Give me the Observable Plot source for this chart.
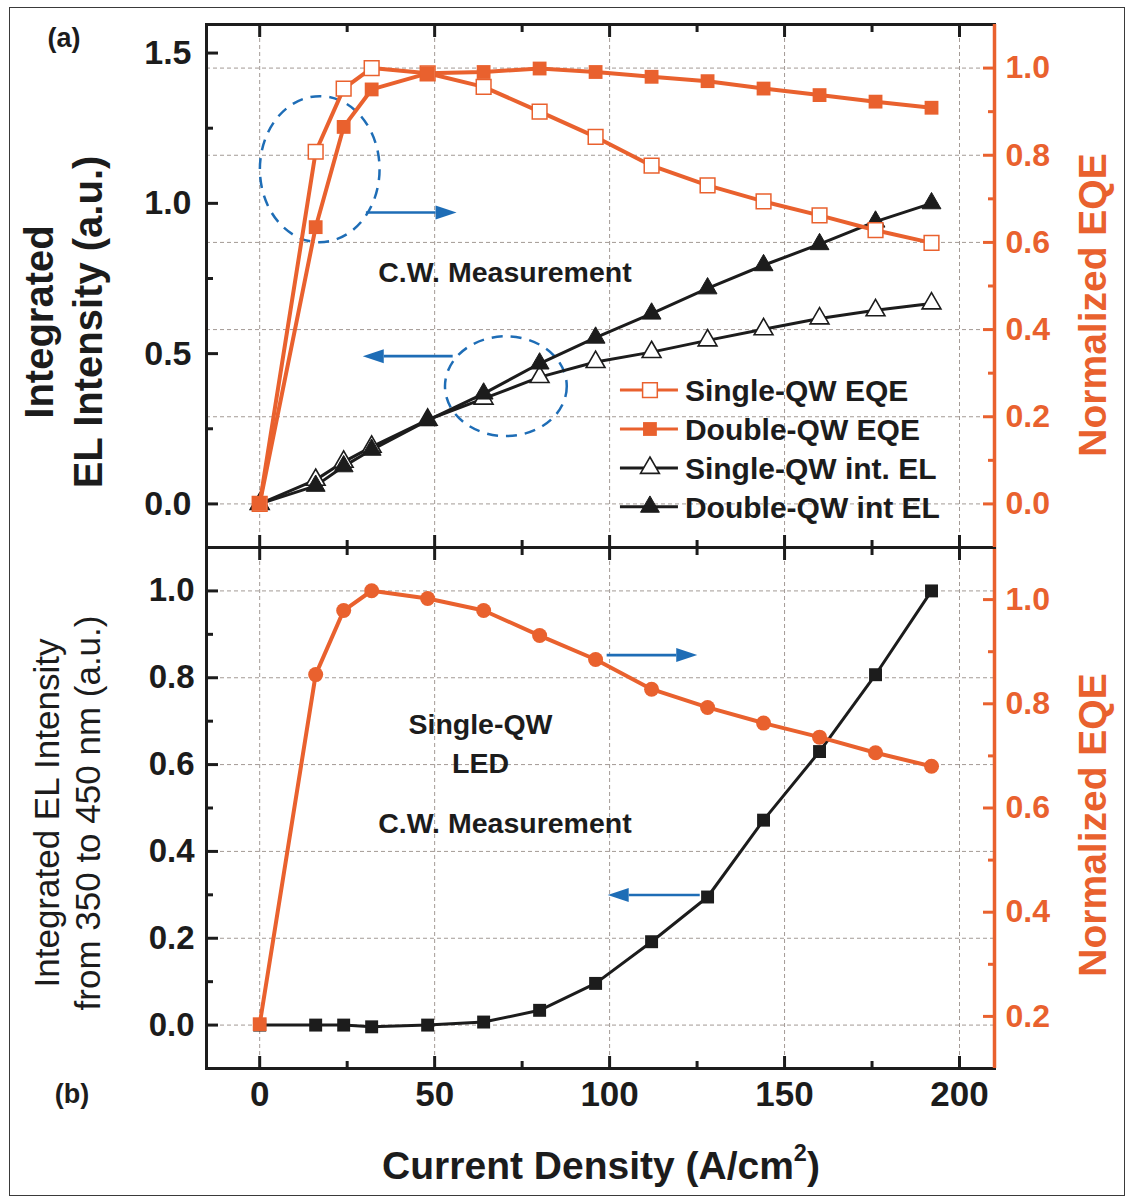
<!DOCTYPE html>
<html>
<head>
<meta charset="utf-8">
<script src="https://cdn.jsdelivr.net/npm/d3@7"></script>
<script src="https://cdn.jsdelivr.net/npm/@observablehq/plot@0.6"></script>
<style>
  body { margin: 0; background: #fff; }
  #fig { position: relative; width: 1130px; height: 1200px; overflow: hidden; background: #fff;
         font-family: "Liberation Sans", Arial, sans-serif; }
  #fig svg { position: absolute; left: 0; top: 0; }
  .lbl { position: absolute; white-space: nowrap; text-align: center; }
  .border { position: absolute; left: 9px; top: 7px; width: 1114px; height: 1187px; border: 1.5px solid #3a3a3a; }
</style>
</head>
<body>
<div id="fig"><div class="border"></div></div>
<script>
// ---------------- data ----------------
const currentDensity = [0, 16, 24, 32, 48, 64, 80, 96, 112, 128, 144, 160, 176, 192];
// panel (a)
const singleQwEqeA = [0, 0.808, 0.953, 1.000, 0.988, 0.957, 0.900, 0.842, 0.776, 0.731, 0.694, 0.662, 0.628, 0.599];
const doubleQwEqeA = [0, 0.635, 0.865, 0.951, 0.988, 0.991, 0.999, 0.991, 0.980, 0.970, 0.953, 0.938, 0.923, 0.909];
const singleQwElA  = [0, 0.080, 0.140, 0.190, 0.280, 0.350, 0.422, 0.472, 0.505, 0.544, 0.581, 0.617, 0.644, 0.667];
const doubleQwElA  = [0, 0.060, 0.125, 0.180, 0.278, 0.367, 0.467, 0.553, 0.633, 0.717, 0.794, 0.864, 0.939, 1.000];
// panel (b)
const singleQwElB  = [0, 0, 0, -0.004, 0, 0.007, 0.034, 0.096, 0.192, 0.295, 0.472, 0.630, 0.807, 1.000];
const singleQwEqeB = [0.185, 0.856, 0.979, 1.017, 1.002, 0.979, 0.931, 0.885, 0.828, 0.793, 0.763, 0.736, 0.706, 0.680];

// tick values
const xMajorTicks = [0, 50, 100, 150, 200];
const xMinorTicks = [25, 75, 125, 175];
const leftMajorA = [0, 0.5, 1.0, 1.5];
const leftMinorA = [0.25, 0.75, 1.25];
const rightMajorA = [0, 0.2, 0.4, 0.6, 0.8, 1.0];
const rightMinorA = [0.1, 0.3, 0.5, 0.7, 0.9];
const leftMajorB = [0, 0.2, 0.4, 0.6, 0.8, 1.0];
const leftMinorB = [0.1, 0.3, 0.5, 0.7, 0.9];
const rightMajorB = [0.2, 0.4, 0.6, 0.8, 1.0];
const rightMinorB = [0.3, 0.5, 0.7, 0.9];

const legendLabels = ["Single-QW EQE", "Double-QW EQE", "Single-QW int. EL", "Double-QW int EL"];

// ---------------- layout & style ----------------
const W = 1130, H = 1200;
const FRAME_L = 206, FRAME_R = 994, A_TOP = 24, MID = 547, B_BOT = 1068;
const FONT = '"Liberation Sans", Arial, sans-serif';
const ORANGE = "#E9612E", BLUE = "#1E6DB6", GRID = "#a39a95", INK = "#1c1c1c";
const xDomain = [-15.2, 210];
const yDomainA = [-0.145, 1.595];
const yDomainB = [-0.1, 1.1];
const kA = 1.45;                       // right (EQE) -> left units, panel a
const toLeftA = v => v * kA;
const fromLeftA = v => v / kA;
const toLeftB = v => 1.2 * v - 0.22;   // right (EQE) -> left units, panel b
const fromLeftB = v => (v + 0.22) / 1.2;

const rowsA = currentDensity.map((x, i) => ({
  x, sEqe: toLeftA(singleQwEqeA[i]), dEqe: toLeftA(doubleQwEqeA[i]), sEl: singleQwElA[i], dEl: doubleQwElA[i]
}));
const rowsB = currentDensity.map((x, i) => ({ x, el: singleQwElB[i], eqe: toLeftB(singleQwEqeB[i]) }));

// annotations (data units)
const ellipsesA = [{x: 17.3, y: 1.112, rx: 17.1, ry: 0.243}, {x: 70.5, y: 0.39, rx: 17.4, ry: 0.166}];
const arrowsA = [{x1: 30.5, x2: 56.4, y: 0.968}, {x1: 55.3, x2: 29.6, y: 0.49}];
const arrowsB = [{x1: 99.3, x2: 125.2, y: 0.851}, {x1: 125.9, x2: 99.6, y: 0.2985}];

function ellipseMark(list) {
  return (index, {x, y}) => {
    const g = d3.create("svg:g").attr("fill", "none").attr("stroke", BLUE)
      .attr("stroke-width", 2.5).attr("stroke-dasharray", "11,8");
    for (const e of list) {
      g.append("ellipse").attr("cx", x(e.x)).attr("cy", y(e.y))
        .attr("rx", Math.abs(x(e.x + e.rx) - x(e.x))).attr("ry", Math.abs(y(e.y + e.ry) - y(e.y)));
    }
    return g.node();
  };
}
function arrowMark(list) {
  return (index, {x, y}) => {
    const g = d3.create("svg:g");
    for (const a of list) {
      const x1 = x(a.x1), x2 = x(a.x2), yy = y(a.y);
      const dir = Math.sign(x2 - x1), head = 21, half = 7;
      g.append("line").attr("x1", x1).attr("x2", x2 - dir * head).attr("y1", yy).attr("y2", yy)
        .attr("stroke", BLUE).attr("stroke-width", 2.6);
      g.append("path").attr("d", `M${x2},${yy}L${x2 - dir * head},${yy - half}L${x2 - dir * head},${yy + half}Z`)
        .attr("fill", BLUE);
    }
    return g.node();
  };
}
const legendAt = {x: 103.1, y: 0.377};
const legendStyles = [
  {line: ORANGE, symbol: d3.symbolSquare, r: 8.3, fill: "white", stroke: ORANGE, sw: 1.5},
  {line: ORANGE, symbol: d3.symbolSquare, r: 7.8, fill: ORANGE, stroke: "none", sw: 0},
  {line: INK, symbol: d3.symbolTriangle, r: 7, fill: "white", stroke: INK, sw: 1.6},
  {line: INK, symbol: d3.symbolTriangle, r: 7, fill: INK, stroke: INK, sw: 1}
];
function legendMark(index, {x, y}) {
  const g = d3.create("svg:g");
  const x0 = x(legendAt.x), y0 = y(legendAt.y);
  legendLabels.forEach((label, i) => {
    const s = legendStyles[i], cy = y0 + i * 38.9;
    g.append("line").attr("x1", x0).attr("x2", x0 + 58).attr("y1", cy).attr("y2", cy)
      .attr("stroke", s.line).attr("stroke-width", 3);
    g.append("path").attr("transform", `translate(${x0 + 30},${cy})`)
      .attr("d", d3.symbol(s.symbol, Math.PI * s.r * s.r)())
      .attr("fill", s.fill).attr("stroke", s.stroke).attr("stroke-width", s.sw);
    g.append("text").attr("x", x0 + 65).attr("y", cy).attr("dy", "0.36em")
      .attr("text-anchor", "start")
      .attr("font-size", 30).attr("font-weight", "bold").attr("fill", INK).text(label);
  });
  return g.node();
}

function tickAxes(kind, anchor, major, minor, color, fmtOpts) {
  const axis = kind === "x" ? Plot.axisX : Plot.axisY;
  const marks = [
    axis(major, {anchor, tickSize: -12, stroke: color, strokeWidth: 3, fill: "none", label: null}),
    axis(minor, {anchor, tickSize: -7, stroke: color, strokeWidth: 3, fill: "none", label: null})
  ];
  if (fmtOpts) marks.push(axis(major, {anchor, tickSize: 0, label: null, fontWeight: "bold", ...fmtOpts}));
  return marks;
}

const common = {
  width: W, height: H,
  marginLeft: FRAME_L, marginRight: W - FRAME_R,
  style: {background: "transparent", fontFamily: FONT, overflow: "visible"},
  x: {domain: xDomain}
};

// ---------------- panel (a) ----------------
const plotA = Plot.plot({
  ...common,
  marginTop: A_TOP, marginBottom: H - MID,
  y: {domain: yDomainA},
  marks: [
    Plot.ruleX(xMajorTicks, {stroke: GRID, strokeWidth: 1, strokeDasharray: "4,3"}),
    Plot.ruleY(rightMajorA.map(toLeftA), {stroke: GRID, strokeWidth: 1, strokeDasharray: "4,3"}),
    ellipseMark(ellipsesA),
    arrowMark(arrowsA),
    Plot.text(["C.W. Measurement"], {x: 70.1, y: 0.768, text: d => d, fontSize: 28.5, fontWeight: "bold", fill: INK}),
    Plot.line(rowsA, {x: "x", y: "sEl", stroke: INK, strokeWidth: 3}),
    Plot.line(rowsA, {x: "x", y: "dEl", stroke: INK, strokeWidth: 3}),
    Plot.dot(rowsA, {x: "x", y: "sEl", symbol: "triangle", r: 7, fill: "white", stroke: INK, strokeWidth: 1.6}),
    Plot.dot(rowsA, {x: "x", y: "dEl", symbol: "triangle", r: 7, fill: INK, stroke: INK, strokeWidth: 1}),
    Plot.line(rowsA, {x: "x", y: "sEqe", stroke: ORANGE, strokeWidth: 4}),
    Plot.line(rowsA, {x: "x", y: "dEqe", stroke: ORANGE, strokeWidth: 4}),
    Plot.dot(rowsA, {x: "x", y: "sEqe", symbol: "square", r: 8.3, fill: "white", stroke: ORANGE, strokeWidth: 1.5}),
    Plot.dot(rowsA, {x: "x", y: "dEqe", symbol: "square", r: 7.8, fill: ORANGE}),
    legendMark,
    Plot.frame({stroke: INK, strokeWidth: 3}),
    Plot.ruleX([xDomain[1]], {stroke: ORANGE, strokeWidth: 3.5}),
    ...tickAxes("x", "top", xMajorTicks, xMinorTicks, INK),
    ...tickAxes("x", "bottom", xMajorTicks, xMinorTicks, INK),
    ...tickAxes("y", "left", leftMajorA, leftMinorA, INK,
      {tickPadding: 15, fontSize: 34, fill: INK, tickFormat: d => d.toFixed(1)}),
    ...tickAxes("y", "right", rightMajorA.map(toLeftA), rightMinorA.map(toLeftA), ORANGE,
      {tickPadding: 11, fontSize: 32, fill: ORANGE, tickFormat: d => fromLeftA(d).toFixed(1)})
  ]
});

// ---------------- panel (b) ----------------
const plotB = Plot.plot({
  ...common,
  marginTop: MID, marginBottom: H - B_BOT,
  y: {domain: yDomainB},
  marks: [
    Plot.ruleX(xMajorTicks, {stroke: GRID, strokeWidth: 1, strokeDasharray: "4,3"}),
    Plot.ruleY(leftMajorB, {stroke: GRID, strokeWidth: 1, strokeDasharray: "4,3"}),
    arrowMark(arrowsB),
    Plot.text(["Single-QW\nLED"], {x: 63.1, y: 0.654, text: d => d, fontSize: 28.5, fontWeight: "bold", fill: INK, lineHeight: 1.38}),
    Plot.text(["C.W. Measurement"], {x: 70.1, y: 0.464, text: d => d, fontSize: 28.5, fontWeight: "bold", fill: INK}),
    Plot.line(rowsB, {x: "x", y: "el", stroke: INK, strokeWidth: 3}),
    Plot.dot(rowsB, {x: "x", y: "el", symbol: "square", r: 7.3, fill: INK}),
    Plot.line(rowsB, {x: "x", y: "eqe", stroke: ORANGE, strokeWidth: 4}),
    Plot.dot(rowsB, {filter: d => d.x > 0, x: "x", y: "eqe", r: 7.5, fill: ORANGE}),
    Plot.dot(rowsB, {filter: d => d.x === 0, x: "x", y: "eqe", symbol: "square", r: 7.8, fill: ORANGE}),
    Plot.frame({stroke: INK, strokeWidth: 3}),
    Plot.ruleX([xDomain[1]], {stroke: ORANGE, strokeWidth: 3.5}),
    ...tickAxes("x", "top", xMajorTicks, xMinorTicks, INK),
    ...tickAxes("x", "bottom", xMajorTicks, xMinorTicks, INK,
      {tickPadding: 13, fontSize: 35, fill: INK}),
    ...tickAxes("y", "left", leftMajorB, leftMinorB, INK,
      {tickPadding: 12, fontSize: 33, fill: INK, tickFormat: d => d.toFixed(1)}),
    ...tickAxes("y", "right", rightMajorB.map(toLeftB), rightMinorB.map(toLeftB), ORANGE,
      {tickPadding: 11, fontSize: 32, fill: ORANGE, tickFormat: d => fromLeftB(d).toFixed(1)})
  ]
});

const fig = document.getElementById("fig");
fig.append(plotB, plotA);

function addLabel(html, cx, cy, css, rotate) {
  const d = document.createElement("div");
  d.className = "lbl";
  d.innerHTML = html;
  Object.assign(d.style, {left: cx + "px", top: cy + "px",
    transform: "translate(-50%,-50%)" + (rotate ? " rotate(-90deg)" : "")}, css);
  fig.append(d);
}
addLabel("Integrated<br>EL Intensity (a.u.)", 64, 322,
  {fontSize: "40px", fontWeight: "bold", lineHeight: "49px", color: INK}, true);
addLabel("Integrated EL Intensity<br>from 350 to 450 nm (a.u.)", 67, 813,
  {fontSize: "35px", fontWeight: "normal", lineHeight: "41px", color: INK}, true);
addLabel("Normalized EQE", 1092, 305, {fontSize: "39px", fontWeight: "bold", color: ORANGE, lineHeight: "1"}, true);
addLabel("Normalized EQE", 1092, 825, {fontSize: "39px", fontWeight: "bold", color: ORANGE, lineHeight: "1"}, true);
addLabel('Current Density (A/cm<sup style="font-size:0.6em;vertical-align:0.75em;line-height:0">2</sup>)', 601, 1165,
  {fontSize: "39px", fontWeight: "bold", color: INK, lineHeight: "1"}, false);
addLabel("(a)", 64, 38, {fontSize: "27px", fontWeight: "bold", color: INK, lineHeight: "1"}, false);
addLabel("(b)", 72, 1094, {fontSize: "27px", fontWeight: "bold", color: INK, lineHeight: "1"}, false);
</script>
</body>
</html>
